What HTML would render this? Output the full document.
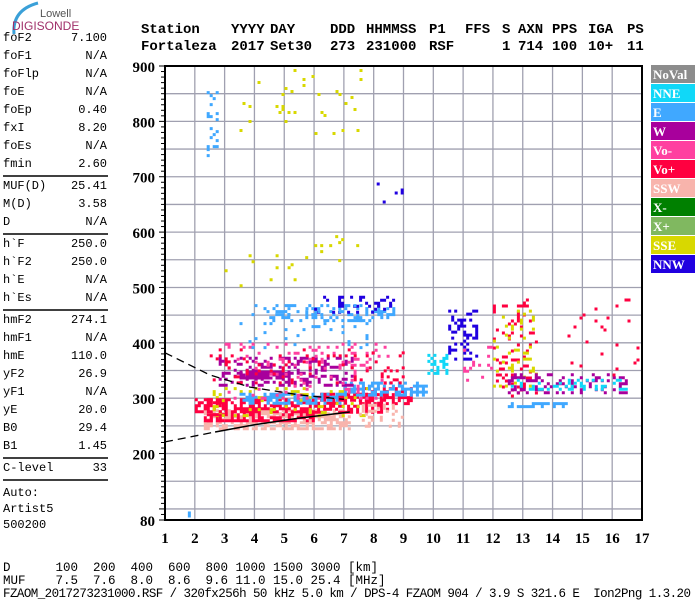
<!DOCTYPE html>
<html><head><meta charset="utf-8">
<style>
html,body{margin:0;padding:0;background:#fff;}
svg{display:block;}
.m{font-family:"Liberation Mono",monospace;}
</style></head>
<body>
<svg id="chart" width="700" height="600" viewBox="0 0 700 600" xmlns="http://www.w3.org/2000/svg">
  <g>
    <path d="M14,34 Q12,10 38,3" fill="none" stroke="#3aa0d8" stroke-width="3"/>
    <text x="40" y="17" font-family="Liberation Sans,sans-serif" font-size="11" fill="#555">Lowell</text>
    <text x="12" y="30" font-family="Liberation Sans,sans-serif" font-size="12" fill="#a0306a">DIGISONDE</text>
  </g>
  <g id="header" class="m" font-size="14" font-weight="bold"></g>
  <g id="leftpanel" class="m" font-size="12"></g>
  <g id="grid"></g>
  <g id="marks"></g>
  <g id="curves"></g>
  <g id="axes"></g>
  <g id="legend"></g>
  <g id="bottom" class="m" font-size="12.5"></g>
</svg>
<script>
// ---- data ----
const freqTicks = [1,2,3,4,5,6,7,8,9,10,11,12,13,14,15,16,17];
const heightTicks = [80,200,300,400,500,600,700,800,900];
const legendLabels = ["NoVal","NNE","E","W","Vo-","Vo+","SSW","X-","X+","SSE","NNW"];
const legendColors = ["#8c8c8c","#10d8f8","#40a8ff","#a8009c","#ff40a0","#ff0040","#f8b4ac","#008000","#80b860","#d8d800","#2000e0"];
// echo regions: freq start/end (MHz), height low/high (km), direction index, echo density
const blobF0 = [2.3,2.3,6.0,7.5,2.6,3.5,7.0,2.8,3.5,3.0,2.5,4.5,6.0,3.5,2.4,3.0,5.5,3.5,9.8,10.5,12.0,12.0,12.5,12.5,12.5,11.0,7.5,14.5,2.0,8.0];
const blobF1 = [7.2,6.0,8.5,9.3,8.0,7.0,9.8,7.3,5.2,8.5,9.3,8.8,8.8,7.8,2.8,5.5,7.5,7.8,10.5,11.5,13.5,13.5,16.5,16.5,14.5,12.0,9.0,17.0,3.0,9.0];
const blobH0 = [245,262,275,290,270,290,305,325,335,300,330,440,455,390,740,500,540,780,345,370,300,320,310,315,283,330,250,340,260,650];
const blobH1 = [280,300,310,320,320,310,330,375,350,400,390,470,485,470,860,560,600,900,380,460,480,460,345,335,293,400,290,480,300,695];
const blobC  = [6,5,5,5,9,2,2,3,3,4,5,2,10,2,2,9,9,9,1,10,5,9,3,1,2,4,6,5,5,10];
const blobD  = [0.6,0.6,0.6,0.5,0.15,0.5,0.6,0.35,0.8,0.12,0.1,0.3,0.3,0.08,0.3,0.03,0.05,0.025,0.5,0.3,0.12,0.1,0.3,0.25,0.5,0.1,0.3,0.03,0.4,0.04];
// model curves (MHz, km)
const lowerF = [1.0,2.68,4.0,5.5,7.2];
const lowerH = [221,239,252,264,275];
const upperF = [1.0,2.5,3.85,5.5,7.0];
const upperH = [382,342,320,306,298];
const leftLabels = ["foF2","foF1","foFlp","foE","foEp","fxI","foEs","fmin","|","MUF(D)","M(D)","D","|","h`F","h`F2","h`E","h`Es","|","hmF2","hmF1","hmE","yF2","yF1","yE","B0","B1","|","C-level","|"];
const leftValues = ["7.100","N/A","N/A","N/A","0.40","8.20","N/A","2.60","","25.41","3.58","N/A","","250.0","250.0","N/A","N/A","","274.1","N/A","110.0","26.9","N/A","20.0","29.4","1.45","","33",""];

const NS="http://www.w3.org/2000/svg";
const X0=165,X1=642,Y0=66,Y1=520;
function xs(f){return X0+(f-1)*(X1-X0)/16;}
function ys(h){return Y1-(h-80)*(Y1-Y0)/820;}
function mk(tag,attrs,parent){const e=document.createElementNS(NS,tag);for(const k in attrs)e.setAttribute(k,attrs[k]);parent.appendChild(e);return e;}

// header
const hdr=document.getElementById('header');
const h1=[["Station",141],["YYYY",231],["DAY",270],["DDD",330],["HHMMSS",366],["P1",429],["FFS",465],["S",502],["AXN",518],["PPS",552],["IGA",588],["PS",627]];
const h2=[["Fortaleza",141],["2017",231],["Set30",270],["273",330],["231000",366],["RSF",429],["1",502],["714",518],["100",552],["10+",588],["11",627]];
h1.forEach(p=>{const t=mk('text',{x:p[1],y:33},hdr);t.textContent=p[0];

});
h2.forEach(p=>{const t=mk('text',{x:p[1],y:50},hdr);t.textContent=p[0];

});

// left panel
const lp=document.getElementById('leftpanel');
let yy=41;
for(let i=0;i<leftLabels.length;i++){
  if(leftLabels[i]==="|"){const l=mk('line',{x1:3,x2:108,y1:yy-9,y2:yy-9,stroke:"#000","stroke-width":1.5},lp);
    
    
    yy+=4;continue;}
  const a=mk('text',{x:3,y:yy},lp);a.textContent=leftLabels[i];
  
  
  const b=mk('text',{x:107,y:yy,"text-anchor":"end"},lp);b.textContent=leftValues[i];
  
  
  yy+=18;
}
[["Auto:",496],["Artist5",512],["500200",528]].forEach(p=>{const t=mk('text',{x:3,y:p[1]},lp);t.textContent=p[0];

});

// grid
const g=document.getElementById('grid');
freqTicks.forEach(f=>{const l=mk('line',{x1:xs(f),x2:xs(f),y1:Y0,y2:Y1,stroke:"#a0a0b0","stroke-width":1.3},g);

});
for(let h=100;h<=900;h+=50){const l=mk('line',{x1:X0,x2:X1,y1:ys(h),y2:ys(h),stroke:"#a0a0b0","stroke-width":1.3},g);

}

// marks
const mg=document.getElementById('marks');
function hsh(i,j,k){let v=(i*73856093)^(j*19349663)^(k*83492791);v=(v^(v>>>13))*1274126177;v=v^(v>>>16);return ((v>>>0)%1000)/1000;}
for(let b=0;b<blobF0.length;b++){
  const xa=xs(blobF0[b]),xb=xs(blobF1[b]),ya=ys(blobH1[b]),yb=ys(blobH0[b]);
  const col=legendColors[blobC[b]];
  let d="";
  for(let i=0;xa+i*3<xb;i++)for(let j=0;ya+j*3<yb;j++){
    if(hsh(i+7,j+3,b+1)<blobD[b]){d+=`M${(xa+i*3).toFixed(1)},${(ya+j*3).toFixed(1)}h3v3h-3z`;}
  }
  const p=mk('path',{d:d,fill:col},mg);
  
  
}
const dot=mk('rect',{x:xs(1.8)-1,y:ys(90)-3,width:3,height:6,fill:legendColors[2]},mg);



// curves
const cg=document.getElementById('curves');
function poly(F,H){return F.map((f,i)=>xs(f).toFixed(1)+","+ys(H[i]).toFixed(1)).join(" ");}
let c=mk('polyline',{points:poly(lowerF.slice(0,2),lowerH.slice(0,2)),fill:"none",stroke:"#000","stroke-width":1.3,"stroke-dasharray":"8,5"},cg);


c=mk('polyline',{points:poly(lowerF.slice(1),lowerH.slice(1)),fill:"none",stroke:"#000","stroke-width":1.5},cg);


c=mk('polyline',{points:poly(upperF,upperH),fill:"none",stroke:"#000","stroke-width":1.3,"stroke-dasharray":"8,5"},cg);



// axes
const ax=document.getElementById('axes');
const fr=mk('rect',{x:X0,y:Y0,width:X1-X0,height:Y1-Y0,fill:"none",stroke:"#000","stroke-width":2},ax);


for(let h=80;h<=900;h+=10){const major=(h%100===0)||h===80;const l=mk('line',{x1:X0-(major?6:4),x2:X0,y1:ys(h),y2:ys(h),stroke:"#000","stroke-width":1},ax);

}
heightTicks.forEach(h=>{const t=mk('text',{x:155,y:ys(h)+6,"text-anchor":"end","font-family":"Liberation Serif,serif","font-weight":"bold","font-size":15},ax);t.textContent=h;

});
freqTicks.forEach(f=>{const t=mk('text',{x:xs(f),y:543,"text-anchor":"middle","font-family":"Liberation Serif,serif","font-weight":"bold","font-size":15},ax);t.textContent=f;

});

// legend
const lg=document.getElementById('legend');
legendLabels.forEach((lab,i)=>{
  const y=65+i*19;
  const r=mk('rect',{x:651,y:y,width:44,height:18,fill:legendColors[i]},lg);
  
  
  const t=mk('text',{x:653,y:y+14,fill:"#fff","font-family":"Liberation Serif,serif","font-weight":"bold","font-size":13},lg);
  t.textContent=lab;
  
  
});

// bottom
const bt=document.getElementById('bottom');
[["D      100  200  400  600  800 1000 1500 3000 [km]",571,null],["MUF    7.5  7.6  8.0  8.6  9.6 11.0 15.0 25.4 [MHz]",584,null],["FZAOM_2017273231000.RSF / 320fx256h 50 kHz 5.0 km / DPS-4 FZAOM 904 / 3.9 S 321.6 E  Ion2Png 1.3.20",597,688]].forEach(p=>{
  const t=mk('text',{x:3,y:p[1]},bt);t.setAttribute('xml:space','preserve');t.style.whiteSpace='pre';
  if(p[2])t.setAttribute('textLength',p[2]);
  t.textContent=p[0];
  
  
});
</script>
</body></html>
